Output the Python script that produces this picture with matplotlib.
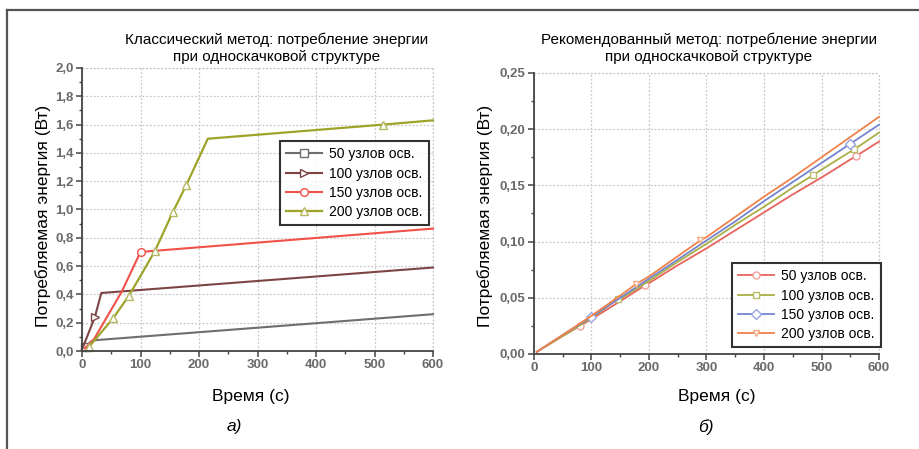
import matplotlib
matplotlib.use("Agg")
import matplotlib.pyplot as plt
from matplotlib.ticker import MultipleLocator, FuncFormatter
from matplotlib.lines import Line2D

plt.rcParams['font.family'] = ['Liberation Sans Narrow', 'Liberation Sans', 'DejaVu Sans']

# ---------------- data: left chart (classical method) ----------------
legend_labels = ["50 узлов осв.", "100 узлов осв.", "150 узлов осв.", "200 узлов осв."]

a_t50 = [0, 5, 18, 600]
a_e50 = [0.01, 0.03, 0.075, 0.26]
a_t100 = [0, 22, 33, 600]
a_e100 = [0.01, 0.24, 0.41, 0.59]
a_t150 = [5, 20, 68, 100, 600]
a_e150 = [0.02, 0.08, 0.42, 0.70, 0.865]
a_t200 = [8, 12, 53, 80, 100, 125, 155, 178, 215, 515, 600]
a_e200 = [0.01, 0.03, 0.23, 0.39, 0.53, 0.71, 0.98, 1.17, 1.50, 1.60, 1.63]

# ---------------- data: right chart (recommended method) ----------------
b_t50 = [5, 50, 80, 100, 150, 193, 200, 250, 300, 350, 400, 450, 500, 550, 560, 600]
b_e50 = [0.002, 0.016, 0.025, 0.031, 0.047, 0.061, 0.063, 0.079, 0.094, 0.110, 0.126,
         0.142, 0.157, 0.173, 0.176, 0.189]
b_t100 = [5, 50, 100, 146, 150, 200, 250, 300, 350, 400, 450, 485, 500, 550, 557, 600]
b_e100 = [0.002, 0.016, 0.032, 0.049, 0.049, 0.065, 0.082, 0.098, 0.115, 0.131, 0.148,
          0.159, 0.164, 0.180, 0.182, 0.197]
b_t150 = [5, 50, 100, 150, 200, 250, 300, 350, 400, 450, 500, 550, 600]
b_e150 = [0.002, 0.017, 0.033, 0.050, 0.067, 0.084, 0.101, 0.118, 0.136, 0.153, 0.170,
          0.187, 0.204]
b_t200 = [5, 50, 100, 150, 177, 200, 250, 289, 300, 350, 400, 450, 500, 550, 600]
b_e200 = [0.002, 0.017, 0.034, 0.052, 0.062, 0.069, 0.087, 0.101, 0.104, 0.122, 0.140,
          0.157, 0.175, 0.193, 0.211]

W, H = 920, 449
fig = plt.figure(figsize=(W / 100, H / 100), dpi=100)
fig.patch.set_facecolor('white')


def fx(px):
    return px / W


def fy(py):
    return 1 - py / H


# outer frame (top and left edges)
fig.add_artist(Line2D([fx(7), 1.0], [fy(10), fy(10)], color='#555555', lw=1.6))
fig.add_artist(Line2D([fx(7), fx(7)], [fy(10), 0.0], color='#555555', lw=1.6))

tick_grey = '#6a6a6a'


def style_axes(ax, ymax, ymajor, yminor, yfmt):
    ax.set_xlim(0, 600)
    ax.set_ylim(0, ymax)
    ax.xaxis.set_major_locator(MultipleLocator(100))
    ax.xaxis.set_minor_locator(MultipleLocator(50))
    ax.yaxis.set_major_locator(MultipleLocator(ymajor))
    ax.yaxis.set_minor_locator(MultipleLocator(yminor))
    ax.yaxis.set_major_formatter(FuncFormatter(lambda v, p: yfmt.format(v).replace('.', ',')))
    for s in ['top', 'right']:
        ax.spines[s].set_visible(False)
    for s in ['left', 'bottom']:
        ax.spines[s].set_color('#444444')
        ax.spines[s].set_linewidth(1.3)
    ax.tick_params(which='major', direction='out', length=4, width=1.1, color='#444444',
                   labelsize=9.5, labelcolor=tick_grey, pad=2)
    ax.tick_params(which='minor', direction='out', length=2.5, width=1.0, color='#444444')
    for lab in ax.get_xticklabels() + ax.get_yticklabels():
        lab.set_fontweight('bold')
        lab.set_family(['Liberation Sans', 'DejaVu Sans'])
    ax.grid(True, which='major', linestyle=(0, (1.5, 1.5)), color='#c8c8c8', lw=0.9)
    ax.set_axisbelow(True)
    # dotted lines at top and right limits
    ax.axhline(ymax, linestyle=(0, (1.5, 1.5)), color='#c8c8c8', lw=0.9, clip_on=False)
    ax.axvline(600, linestyle=(0, (1.5, 1.5)), color='#c8c8c8', lw=0.9, clip_on=False)


# ---------------- left axes ----------------
axA = fig.add_axes([fx(82), fy(351), fx(351), (351 - 68) / H])
style_axes(axA, 2.0, 0.2, 0.1, '{:.1f}')
mk = dict(markerfacecolor='white', markersize=5.5, markeredgewidth=1.0, clip_on=False)
hA = []
hA += axA.plot(a_t50, a_e50, color='#6e6e6e', lw=1.5, marker='s', markevery=[1],
               markeredgecolor='#6e6e6e', label=legend_labels[0], **mk)
hA += axA.plot(a_t100, a_e100, color='#7d4444', lw=1.5, marker='>', markevery=[1],
               markeredgecolor='#7d4444', label=legend_labels[1], **mk)
hA += axA.plot(a_t150, a_e150, color='#f0524a', lw=1.5, marker='o', markevery=[3],
               markeredgecolor='#f0524a', label=legend_labels[2], **mk)
hA += axA.plot(a_t200, a_e200, color='#9ea42a', lw=1.6, marker='^',
               markevery=[1, 2, 3, 5, 6, 7, 9],
               markeredgecolor='#b4b860', label=legend_labels[3], **mk)

legA = fig.legend(handles=hA, loc='upper left',
                  bbox_to_anchor=(fx(280), fy(141)), bbox_transform=fig.transFigure,
                  fontsize=10, frameon=True, fancybox=False, handlelength=2.6,
                  borderpad=0.45, labelspacing=0.38, handletextpad=0.5, borderaxespad=0)
legA.get_frame().set_edgecolor('black')
legA.get_frame().set_linewidth(1.5)

# ---------------- right axes ----------------
axB = fig.add_axes([fx(534), fy(354), fx(345), (354 - 73) / H])
style_axes(axB, 0.25, 0.05, 0.025, '{:.2f}')
mkb = dict(markerfacecolor='white', markersize=5, markeredgewidth=1.0, clip_on=False)
hB = []
hB += axB.plot(b_t50, b_e50, color='#e8645c', lw=1.3, marker='o', markevery=[2, 5, 14],
               markeredgecolor='#f0a09a', label=legend_labels[0], **mkb)
hB += axB.plot(b_t100, b_e100, color='#a9b043', lw=1.3, marker='s', markevery=[3, 11, 14],
               markeredgecolor='#b8bd6a', label=legend_labels[1], **mkb)
hB += axB.plot(b_t150, b_e150, color='#7484d0', lw=1.3, marker='D', markevery=[2, 11],
               markeredgecolor='#9aa6e0', label=legend_labels[2], **mkb)
hB += axB.plot(b_t200, b_e200, color='#f0824a', lw=1.3, marker='v', markevery=[4, 7],
               markeredgecolor='#f4aa80', label=legend_labels[3], **mkb)

legB = fig.legend(handles=hB, loc='upper left',
                  bbox_to_anchor=(fx(732), fy(263)), bbox_transform=fig.transFigure,
                  fontsize=10, frameon=True, fancybox=False, handlelength=2.6,
                  borderpad=0.45, labelspacing=0.38, handletextpad=0.5, borderaxespad=0)
legB.get_frame().set_edgecolor('black')
legB.get_frame().set_linewidth(1.5)

# ---------------- texts ----------------
fig.text(fx(277), fy(48), "Классический метод: потребление энергии\nпри односкачковой структуре",
         ha='center', va='center', fontsize=11, linespacing=1.25)
fig.text(fx(709), fy(48), "Рекомендованный метод: потребление энергии\nпри односкачковой структуре",
         ha='center', va='center', fontsize=11, linespacing=1.25)

ylab_font = ['Liberation Sans', 'DejaVu Sans']
fig.text(fx(43), fy(216), "Потребляемая энергия (Вт)", rotation=90, ha='center', va='center',
         fontsize=12.5, family=ylab_font)
fig.text(fx(485), fy(216), "Потребляемая энергия (Вт)", rotation=90, ha='center', va='center',
         fontsize=12.5, family=ylab_font)
fig.text(fx(251), fy(397), "Время (с)", ha='center', va='center', fontsize=12.5, family=ylab_font)
fig.text(fx(717), fy(397), "Время (с)", ha='center', va='center', fontsize=12.5, family=ylab_font)
fig.text(fx(234), fy(427), "а)", ha='center', va='center', fontsize=12.5, style='italic',
         family=ylab_font)
fig.text(fx(706), fy(427), "б)", ha='center', va='center', fontsize=12.5, style='italic',
         family=ylab_font)

fig.savefig("out.png", dpi=100, facecolor='white')
